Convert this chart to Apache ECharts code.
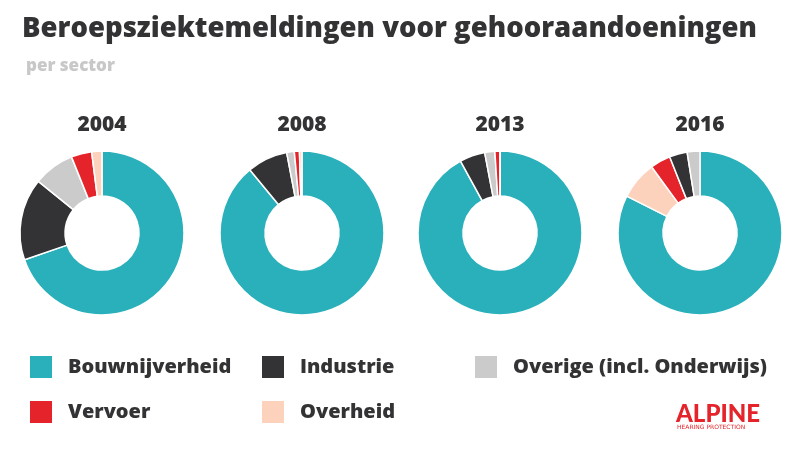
<!DOCTYPE html>
<html><head><meta charset="utf-8">
<script src="https://cdn.jsdelivr.net/npm/echarts@6/dist/echarts.min.js"></script>
<style>html,body{margin:0;background:#fff}#c{width:800px;height:457px}</style>
</head><body><div id="c"></div>
<script>
const years = ['2004','2008','2013','2016'];
const sectors = ['Bouwnijverheid','Industrie','Overige (incl. Onderwijs)','Vervoer','Overheid'];
const colors = {'Bouwnijverheid':'#2ab0bb','Industrie':'#333335','Overige (incl. Onderwijs)':'#cbcbcb','Vervoer':'#e4232a','Overheid':'#fcd2bc'};
// values per year, in clockwise order from top
const order2004 = ['Bouwnijverheid','Industrie','Overige (incl. Onderwijs)','Vervoer','Overheid'];
const values2004 = [69, 16, 8, 4, 2];
const order2008 = ['Bouwnijverheid','Industrie','Overige (incl. Onderwijs)','Vervoer','Overheid'];
const values2008 = [89, 8, 1.5, 1, 0.5];
const order2013 = ['Bouwnijverheid','Industrie','Overige (incl. Onderwijs)','Vervoer','Overheid'];
const values2013 = [92, 5, 2, 1, 0];
const order2016 = ['Bouwnijverheid','Overheid','Vervoer','Industrie','Overige (incl. Onderwijs)'];
const values2016 = [82, 7.5, 4, 3.5, 2.5];
const orders=[order2004,order2008,order2013,order2016];
const vals=[values2004,values2008,values2013,values2016];
const cx=[102,302,500,700];
const font='"Open Sans", Lato, sans-serif';
const series = years.map((y,i)=>({
  type:'pie', center:[cx[i],233], radius:[37,82], startAngle:90, clockwise:true,
  label:{show:false}, silent:true, animation:false,
  itemStyle:{borderColor:'#fff',borderWidth:1.5},
  data: orders[i].map((s,j)=>({name:s,value:vals[i][j],itemStyle:{color:colors[s]}}))
}));
const graphic=[
  {type:'text',left:22,top:15,style:{text:'Beroepsziektemeldingen voor gehooraandoeningen',font:'800 27.5px '+font,fill:'#333335'}},
  {type:'text',left:26,top:58,style:{text:'per sector',font:'800 17px '+font,fill:'#c8c8c8'}},
];
years.forEach((y,i)=>graphic.push({type:'text',x:cx[i],y:115,style:{text:y,font:'800 21px '+font,fill:'#333335',textAlign:'center'}}));
const leg=[[0,30,367],[1,262,367],[2,475,367],[3,30,412],[4,262,412]];
leg.forEach(([k,x,y])=>{
  graphic.push({type:'rect',shape:{x:x,y:y-11,width:22,height:22},style:{fill:colors[sectors[k]]}});
  graphic.push({type:'text',x:x+38,y:y,style:{text:sectors[k],font:'800 20px '+font,fill:'#333335',textVerticalAlign:'middle'}});
});
graphic.push({type:'text',x:676,y:402,style:{text:'ALPINE',font:'900 24px Lato, sans-serif',fill:'#e4232a'}});
graphic.push({type:'text',x:677,y:424,style:{text:'HEARING PROTECTION',font:'6px "DejaVu Sans"',fill:'#e4232a'}});
const chart=echarts.init(document.getElementById('c'));
chart.setOption({animation:false,series,graphic});
</script></body></html>
